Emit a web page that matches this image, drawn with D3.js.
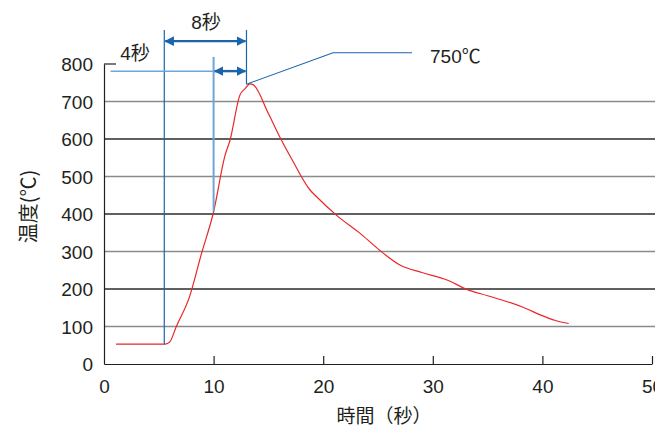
<!DOCTYPE html>
<html>
<head>
<meta charset="utf-8">
<script src="https://cdn.jsdelivr.net/npm/d3@7"></script>
<style>
  body { margin: 0; background: #fff; }
  text { font-family: "Liberation Sans", Arial, "Noto Sans CJK JP", sans-serif; fill: #231f20; }
</style>
</head>
<body>
<div id="chart"></div>
<script>
// heating curve data
const xTicks = [0, 10, 20, 30, 40, 50];
const yTicks = [0, 100, 200, 300, 400, 500, 600, 700, 800];
const times = [1.1, 5.6, 6.0, 6.6, 7.8, 8.9, 10.0, 11.05, 11.5, 12.4, 12.9, 13.3, 13.6,
  15.0, 16.1, 17.1, 18.8, 19.4, 21.2, 23.5, 25.5, 27.0, 29.0, 31.3, 33.1, 35.0, 36.8, 38.5, 39.8, 41.2, 42.4];
const temps = [53, 53, 59, 100, 179, 295, 406, 557, 597, 717, 735, 747, 745,
  668, 602, 548, 464, 446, 397, 345, 295, 264, 244, 224, 199, 182, 166, 148, 131, 116, 108];

// annotation values (seconds / °C)
const markTimes = [5.5, 10.0, 13.0];
const peakLabel = '750℃';
const spanLabels = ['8秒', '4秒'];

const W = 655, H = 428;
const svg = d3.select('#chart').append('svg').attr('width', W).attr('height', H);

const x = d3.scaleLinear().domain([0, 50]).range([104, 652]);
const y = d3.scaleLinear().domain([0, 800]).range([364, 64]);

// arrow marker
const defs = svg.append('defs');
['start', 'end'].forEach(k => {
  defs.append('marker')
    .attr('id', 'arr-' + k)
    .attr('viewBox', '0 0 10 10')
    .attr('refX', 9).attr('refY', 5)
    .attr('markerWidth', 4).attr('markerHeight', 4)
    .attr('orient', 'auto-start-reverse')
    .append('path').attr('d', 'M0,0 L10,5 L0,10 z').attr('fill', '#1a64ad');
});

// gridlines
svg.append('g').selectAll('line')
  .data(yTicks.filter(d => d > 0 && d < 800))
  .join('line')
  .attr('x1', x(0)).attr('x2', W)
  .attr('y1', d => y(d)).attr('y2', d => y(d))
  .attr('stroke', d => (d / 100) % 2 ? '#8a8a8a' : '#2b2b2b')
  .attr('stroke-width', 1.4);

// top tick at 800
svg.append('line').attr('x1', x(0)).attr('x2', x(0) + 12)
  .attr('y1', y(800)).attr('y2', y(800)).attr('stroke', '#231f20').attr('stroke-width', 1.2);

// y axis
const yAxis = d3.axisLeft(y).tickValues(yTicks).tickSize(0).tickPadding(11);
const gy = svg.append('g').attr('transform', `translate(${x(0)},0)`).call(yAxis);
gy.select('.domain').attr('stroke', '#231f20').attr('stroke-width', 1.2);
gy.selectAll('text').attr('font-size', 19).attr('dy', '0.35em')
  .style('font-family', '"Liberation Sans", Arial, sans-serif').attr('fill', '#231f20');

// x axis with inward ticks
const xAxis = d3.axisBottom(x).tickValues(xTicks).tickSizeInner(-8).tickSizeOuter(0).tickPadding(16);
const gx = svg.append('g').attr('transform', `translate(0,${y(0)})`).call(xAxis);
gx.select('.domain').attr('stroke', '#231f20').attr('stroke-width', 1.2);
gx.selectAll('.tick line').attr('stroke', '#231f20').attr('stroke-width', 1.2);
gx.selectAll('.tick').filter(d => d === 0).select('line').remove();
gx.selectAll('text').attr('font-size', 19)
  .style('font-family', '"Liberation Sans", Arial, sans-serif').attr('fill', '#231f20');

// axis titles
svg.append('text')
  .attr('x', 384).attr('y', 423).attr('text-anchor', 'middle').attr('font-size', 19)
  .style('font-family', '"Noto Sans CJK JP", sans-serif')
  .text('時間（秒）');
svg.append('text')
  .attr('transform', `translate(36,${y(420)}) rotate(-90)`)
  .attr('text-anchor', 'middle').attr('font-size', 20)
  .style('font-family', '"Noto Sans CJK JP", sans-serif')
  .text('温度(℃)');

// red curve
const pts = times.map((t, i) => [t, temps[i]]);
svg.append('path')
  .datum(pts)
  .attr('fill', 'none').attr('stroke', '#e8262a').attr('stroke-width', 1.2)
  .attr('d', d3.line().x(d => x(d[0])).y(d => y(d[1])).curve(d3.curveMonotoneX));

const dark = '#1a64ad', light = '#6ea6d8';

// vertical guide lines
svg.append('line').attr('x1', x(markTimes[0])).attr('x2', x(markTimes[0]))
  .attr('y1', y(891)).attr('y2', y(53)).attr('stroke', dark).attr('stroke-width', 1.2);
svg.append('line').attr('x1', x(markTimes[1])).attr('x2', x(markTimes[1]))
  .attr('y1', y(819)).attr('y2', y(406)).attr('stroke', light).attr('stroke-width', 2);
svg.append('line').attr('x1', x(markTimes[2])).attr('x2', x(markTimes[2]))
  .attr('y1', y(891)).attr('y2', y(746)).attr('stroke', dark).attr('stroke-width', 1.2);

// horizontal light line
svg.append('line').attr('x1', x(0.6)).attr('x2', x(markTimes[1]))
  .attr('y1', y(781)).attr('y2', y(781)).attr('stroke', light).attr('stroke-width', 1.5);

// double arrows
svg.append('line').attr('x1', x(markTimes[0]) + 1).attr('x2', x(markTimes[2]) - 1)
  .attr('y1', y(861)).attr('y2', y(861)).attr('stroke', dark).attr('stroke-width', 2.4)
  .attr('marker-start', 'url(#arr-start)').attr('marker-end', 'url(#arr-end)');
svg.append('line').attr('x1', x(markTimes[1]) + 1).attr('x2', x(markTimes[2]) - 1)
  .attr('y1', y(781)).attr('y2', y(781)).attr('stroke', dark).attr('stroke-width', 2.4)
  .attr('marker-start', 'url(#arr-start)').attr('marker-end', 'url(#arr-end)');

// leader to peak label
svg.append('polyline')
  .attr('points', [[x(markTimes[2]), y(746)], [x(20.9), y(830)], [x(28.1), y(830)]].join(' '))
  .attr('fill', 'none').attr('stroke', dark).attr('stroke-width', 1.1);

// labels
svg.append('text').attr('x', 206).attr('y', 29)
  .attr('text-anchor', 'middle').attr('font-size', 19).text(spanLabels[0]);
svg.append('text').attr('x', 135).attr('y', 60)
  .attr('text-anchor', 'middle').attr('font-size', 19).text(spanLabels[1]);
svg.append('text').attr('x', 430).attr('y', 63)
  .attr('font-size', 19).text(peakLabel);
</script>
</body>
</html>
